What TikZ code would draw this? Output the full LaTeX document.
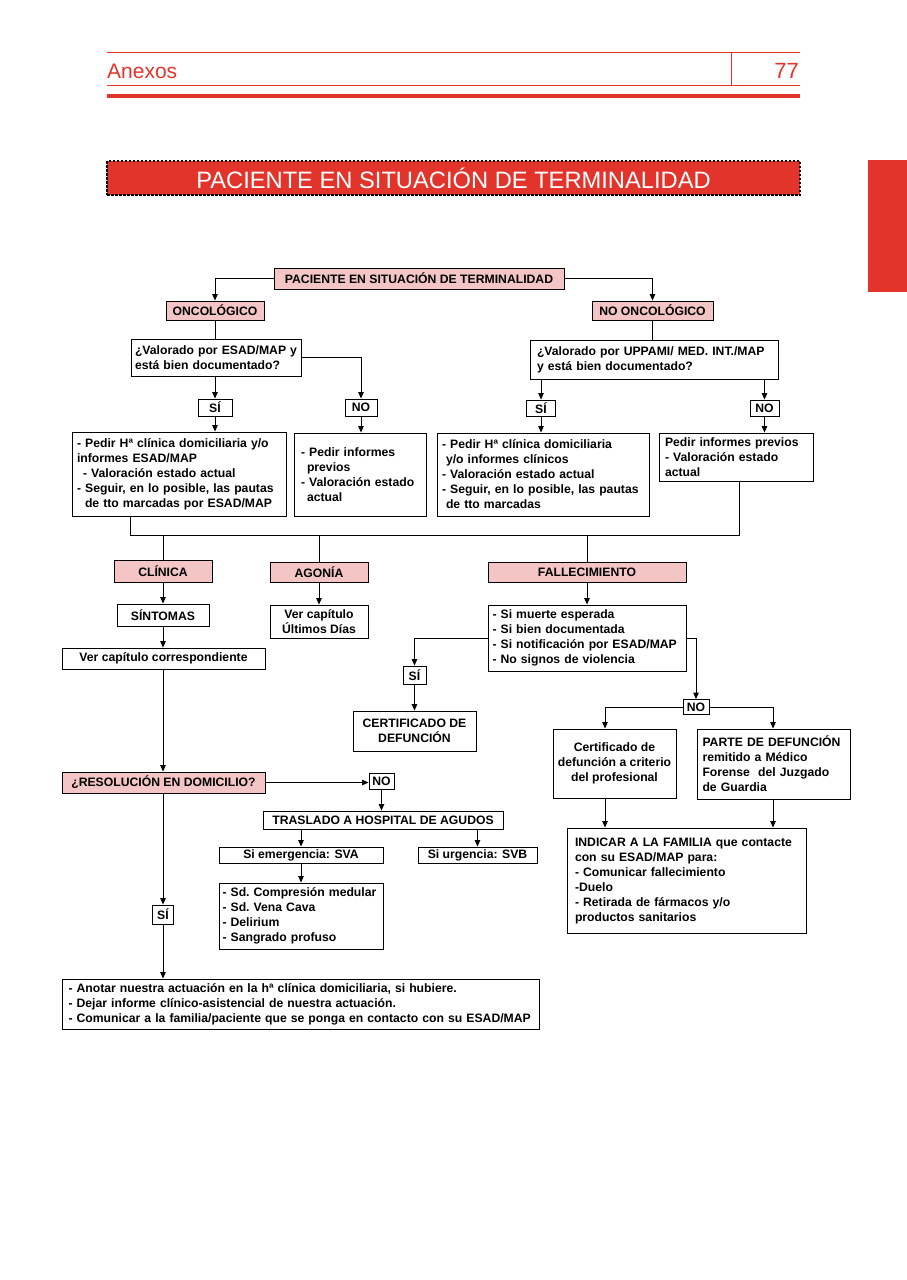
\documentclass[tikz,border=0pt]{standalone}
\usepackage{fontspec}
\setmainfont{Liberation Sans}
\usetikzlibrary{arrows.meta}
\definecolor{redc}{RGB}{227,52,43}
\definecolor{pinkc}{RGB}{243,198,197}
\begin{document}
\begin{tikzpicture}[x=1pt,y=-1pt,
  box/.style={draw, line width=0.9pt, fill=white, inner sep=0pt, font=\fontsize{12.2}{15}\selectfont\bfseries, align=center},
  pbox/.style={box, fill=pinkc},
  lbox/.style={box, align=left},
  ln/.style={line width=0.9pt},
  arr/.style={ln, -{Triangle[length=6.5pt,width=5.5pt]}},
  redline/.style={redc, line width=0.8pt}]
\useasboundingbox (0,0) rectangle (907,1280);
% header
\draw[redline] (107,52.5) -- (800,52.5);
\draw[redline] (107,85) -- (800,85);
\draw[redline] (731,52.5) -- (731,85);
\fill[redc] (107,94) rectangle (800,98);
\node[anchor=base west, inner sep=0pt, text=redc, font=\fontsize{21}{21}\selectfont] (anexos) at (107,78) {Anexos};
\node[anchor=base east, inner sep=0pt, text=redc, font=\fontsize{22}{22}\selectfont] (pag) at (799,78) {77};
\node[fill=redc, draw=black, line width=1.2pt, dash pattern=on 2.5pt off 1.5pt, minimum width=693pt, minimum height=34pt, inner sep=0pt, text=white, font=\fontsize{23.7}{24}\selectfont] (banner) at (453.5,178) {PACIENTE EN SITUACIÓN DE TERMINALIDAD};
\fill[redc] (868,160) rectangle (907,292);

% nodes
\node[pbox, minimum width=290pt, minimum height=21pt] (top) at (419,278.5) {PACIENTE EN SITUACIÓN DE TERMINALIDAD};
\node[pbox, minimum width=98pt, minimum height=19pt] (onc) at (215,310.5) {ONCOLÓGICO};
\node[pbox, minimum width=121pt, minimum height=19pt] (nonc) at (652.5,310.5) {NO ONCOLÓGICO};
\node[lbox, minimum width=170pt, minimum height=37pt, text width=166pt] (q1) at (216,357.5) {\hspace*{2pt}¿Valorado por ESAD/MAP y\\\hspace*{2pt}está bien documentado?};
\node[lbox, minimum width=248pt, minimum height=39pt, text width=234pt] (q2) at (654,359.5) {¿Valorado por UPPAMI/ MED. INT./MAP\\y está bien documentado?};
\node[box, minimum width=34pt, minimum height=17pt] (si1) at (215,407.5) {SÍ};
\node[box, minimum width=32pt, minimum height=17pt] (no1) at (361,407.5) {NO};
\node[box, minimum width=29pt, minimum height=16pt] (si2) at (541,408) {SÍ};
\node[box, minimum width=29pt, minimum height=16pt] (no2) at (764.5,408) {NO};
\node[lbox, minimum width=214pt, minimum height=84pt, text width=204pt] (A) at (179,474) {- Pedir Hª clínica domiciliaria y/o\\informes ESAD/MAP\\\hspace*{6pt}- Valoración estado actual\\- Seguir, en lo posible, las pautas\\\hspace*{8pt}de tto marcadas por ESAD/MAP};
\node[lbox, minimum width=132pt, minimum height=83pt, text width=118pt] (B) at (360,474.5) {- Pedir informes\\\hspace*{6pt}previos\\- Valoración estado\\\hspace*{6pt}actual};
\node[lbox, minimum width=212pt, minimum height=83pt, text width=202pt] (C) at (543,474.5) {- Pedir Hª clínica domiciliaria\\\hspace*{4pt}y/o informes clínicos\\- Valoración estado actual\\- Seguir, en lo posible, las pautas\\\hspace*{4pt}de tto marcadas};
\node[lbox, minimum width=154pt, minimum height=48pt, text width=142pt] (D) at (736,457) {Pedir informes previos\\- Valoración estado\\actual};
\node[pbox, minimum width=98pt, minimum height=22pt] (cli) at (163,571) {CLÍNICA};
\node[pbox, minimum width=98pt, minimum height=20pt] (ago) at (319,572) {AGONÍA};
\node[pbox, minimum width=198pt, minimum height=20pt] (fal) at (587,572) {FALLECIMIENTO};
\node[box, minimum width=92pt, minimum height=22pt] (sin) at (163,615) {SÍNTOMAS};
\node[box, minimum width=98pt, minimum height=33pt] (ult) at (319,621.5) {Ver capítulo\\Últimos Días};
\node[box, minimum width=203pt, minimum height=21pt] (cor) at (163.5,658.5) {Ver capítulo correspondiente};
\node[lbox, minimum width=198pt, minimum height=66pt, text width=189pt] (E) at (587,638) {- Si muerte esperada\\- Si bien documentada\\- Si notificación por ESAD/MAP\\- No signos de violencia};
\node[box, minimum width=23pt, minimum height=18pt] (si3) at (414.5,675) {SÍ};
\node[box, minimum width=123pt, minimum height=40pt] (cert) at (414.5,731) {CERTIFICADO DE\\DEFUNCIÓN};
\node[box, minimum width=26pt, minimum height=15pt] (no4) at (696,707) {NO};
\node[box, minimum width=123pt, minimum height=69pt] (cdf) at (614.5,763.5) {Certificado de\\defunción a criterio\\del profesional};
\node[lbox, minimum width=153pt, minimum height=70pt, text width=142pt] (parte) at (773.5,764) {PARTE DE DEFUNCIÓN\\remitido a Médico\\Forense~ del Juzgado\\de Guardia};
\node[lbox, minimum width=239pt, minimum height=105pt, text width=223pt] (ind) at (686.5,880.5) {INDICAR A LA FAMILIA que contacte\\con su ESAD/MAP para:\\- Comunicar fallecimiento\\-Duelo\\- Retirada de fármacos y/o\\productos sanitarios};
\node[pbox, minimum width=203pt, minimum height=21pt] (res) at (163.5,782.5) {¿RESOLUCIÓN EN DOMICILIO?};
\node[box, minimum width=25pt, minimum height=16pt] (no5) at (381.5,781) {NO};
\node[box, minimum width=240pt, minimum height=18pt] (tra) at (383,820) {TRASLADO A HOSPITAL DE AGUDOS};
\node[box, minimum width=164pt, minimum height=16pt] (sva) at (301,855) {Si emergencia: SVA};
\node[box, minimum width=119pt, minimum height=16pt] (svb) at (477.5,855) {Si urgencia: SVB};
\node[lbox, minimum width=164pt, minimum height=66pt, text width=157pt] (lst) at (301,916) {- Sd.\ Compresión medular\\- Sd.\ Vena Cava\\- Delirium\\- Sangrado profuso};
\node[box, minimum width=21pt, minimum height=19pt] (si5) at (163,914.5) {SÍ};
\node[lbox, minimum width=477pt, minimum height=50pt, text width=470pt] (bot) at (300.5,1004) {\hspace*{3pt}- Anotar nuestra actuación en la hª clínica domiciliaria, si hubiere.\\\hspace*{3pt}- Dejar informe clínico-asistencial de nuestra actuación.\\\hspace*{3pt}- Comunicar a la familia/paciente que se ponga en contacto con su ESAD/MAP};

% connectors
\coordinate (m1) at (130,535);
\coordinate (m2) at (739,535);
\coordinate (colA) at (605,0);
\coordinate (colB) at (773,0);
\draw[arr] (top.west) -| (onc.north);
\draw[arr] (top.east) -| (nonc.north);
\draw[ln] (onc.south) -- (onc.south |- q1.north);
\draw[arr] (si1.north |- q1.south) -- (si1.north);
\draw[arr] (q1.east) -| (no1.north);
\draw[arr] (si1.south) -- (si1.south |- A.north);
\draw[arr] (no1.south) -- (no1.south |- B.north);
\draw[ln] (nonc.south) -- (nonc.south |- q2.north);
\draw[arr] (si2.north |- q2.south) -- (si2.north);
\draw[arr] (no2.north |- q2.south) -- (no2.north);
\draw[arr] (si2.south) -- (si2.south |- C.north);
\draw[arr] (no2.south) -- (no2.south |- D.north);
\draw[ln] (m1 |- A.south) -- (m1) -- (m2) -- (m2 |- D.south);
\draw[ln] (cli.north |- m1) -- (cli.north);
\draw[ln] (ago.north |- m1) -- (ago.north);
\draw[ln] (fal.north |- m1) -- (fal.north);
\draw[arr] (cli.south) -- (sin.north);
\draw[arr] (sin.south) -- (sin.south |- cor.north);
\draw[arr] (ago.south) -- (ult.north);
\draw[arr] (fal.south) -- (E.north);
\draw[arr] (sin.south |- cor.south) -- (sin.south |- res.north);
\draw[arr] (res.east) -- (res.east -| no5.west);
\draw[arr] (no5.south) -- (no5.south |- tra.north);
\draw[arr] (sva.north |- tra.south) -- (sva.north);
\draw[arr] (svb.north |- tra.south) -- (svb.north);
\draw[arr] (sva.south) -- (lst.north);
\draw[arr] (si5.north |- res.south) -- (si5.north);
\draw[arr] (si5.south) -- (si5.south |- bot.north);
\draw[arr] (E.west) -| (si3.north);
\draw[arr] (si3.south) -- (cert.north);
\draw[arr] (E.east) -| (no4.north);
\draw[arr] (no4.west) -| (colA |- cdf.north);
\draw[arr] (no4.east) -| (colB |- parte.north);
\draw[arr] (colA |- cdf.south) -- (colA |- ind.north);
\draw[arr] (colB |- parte.south) -- (colB |- ind.north);
\end{tikzpicture}
\end{document}
